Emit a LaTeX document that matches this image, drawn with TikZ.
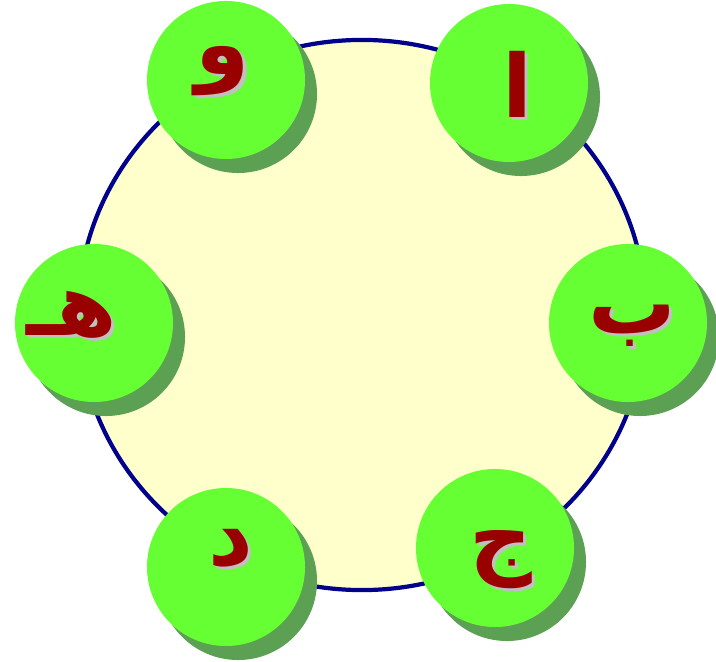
\documentclass[tikz,border=0pt]{standalone}
\usepackage{fontspec}
\usetikzlibrary{shapes.geometric}
\newfontfamily\arabicfont[Script=Arabic]{DejaVu Sans}
\TeXXeTstate=1
\definecolor{paleyellow}{RGB}{255,255,204}
\definecolor{ringblue}{RGB}{0,0,140}
\definecolor{discgreen}{RGB}{102,255,51}
\definecolor{shadowgreen}{RGB}{92,160,84}
\definecolor{letterred}{RGB}{153,0,0}
\definecolor{lettergray}{RGB}{192,192,192}
\newcommand{\harf}[1]{\rlap{\kern2.2pt\raisebox{-2.2pt}{\color{lettergray}\beginR#1\endR}}\beginR#1\endR}
\tikzstyle{board} = [ellipse, minimum width=14.2cm, minimum height=13.75cm, inner sep=0pt, draw=ringblue, line width=3pt, fill=paleyellow]
\tikzstyle{disc} = [circle, minimum size=3.95cm, inner sep=0pt, fill=discgreen]
\tikzstyle{discshadow} = [fill=shadowgreen]
\tikzstyle{letter} = [font=\arabicfont\bfseries\fontsize{62}{62}\selectfont, text=letterred, inner sep=0pt]

\begin{document}
\begin{tikzpicture}[x=0.025cm, y=-0.025cm]
        \useasboundingbox (0,0) rectangle (716,662);
        \node (board) [board] at (362,315) {};

        % shadows under the discs
        \fill [discshadow] (521,97) circle [radius=1.975cm];
        \fill [discshadow] (640,337) circle [radius=1.975cm];
        \fill [discshadow] (507,562) circle [radius=1.975cm];
        \fill [discshadow] (238,581) circle [radius=1.975cm];
        \fill [discshadow] (106,337) circle [radius=1.975cm];
        \fill [discshadow] (238,94) circle [radius=1.975cm];

        \node (alef) [disc] at (509,83) {};
        \node (ba) [disc] at (628,323) {};
        \node (jim) [disc] at (495,548) {};
        \node (dal) [disc] at (226,567) {};
        \node (ha) [disc] at (94,323) {};
        \node (waw) [disc] at (226,80) {};

        \node (alefl) [letter] at (517,86) {\harf{ا}};
        \node (bal) [letter] at (632,327) {\harf{ب}};
        \node (jiml) [letter] at (501,561) {\harf{ج}};
        \node (dall) [letter] at (231,550) {\harf{د}};
        \node (hal) [letter] at (72,316) {\harf{هـ}};
        \node (wawl) [letter] at (223,73) {\harf{و}};
\end{tikzpicture}
\end{document}
